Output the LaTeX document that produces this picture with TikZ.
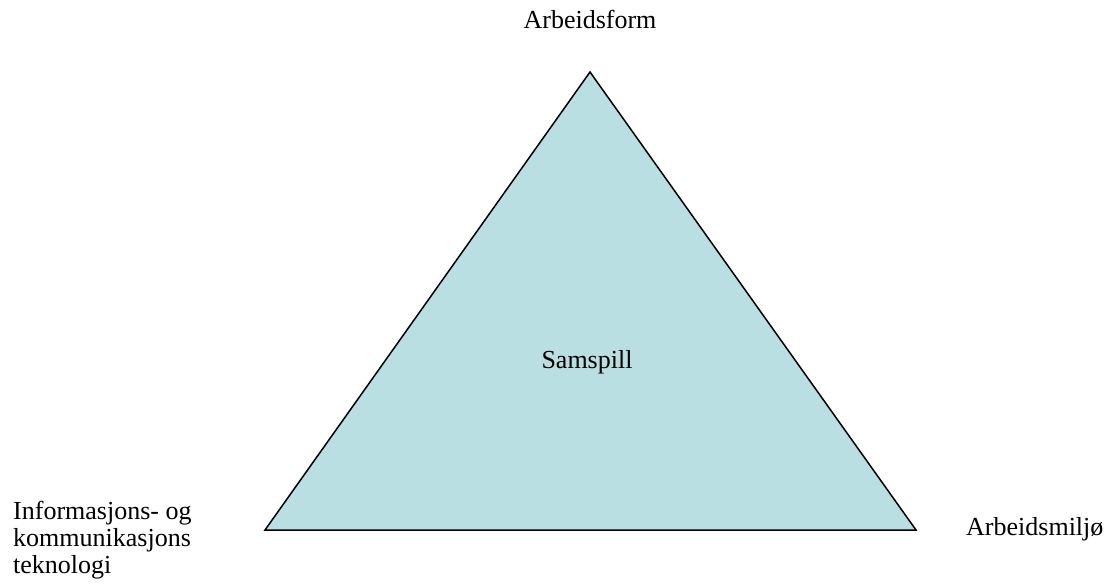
\documentclass[tikz,border=0pt]{standalone}
\usepackage{fontspec}
\setmainfont{Liberation Serif}
\usepackage{tikz}
\usetikzlibrary{positioning,calc}

\definecolor{triblue}{RGB}{185,223,227}

\begin{document}
\begin{tikzpicture}[x=1pt,y=-1pt,
    label/.style={font=\fontsize{26}{27}\selectfont,inner sep=0pt}]
    \useasboundingbox (0,0) rectangle (1108,585);

    \coordinate (top) at (590,72);
    \coordinate (left) at (265,530);
    \coordinate (right) at (916,530);

    \filldraw[fill=triblue,draw=black,line width=1.5pt,line join=miter] (top) -- (left) -- (right) -- cycle;

    \node[label,anchor=base] (form) at (590,29) {Arbeidsform};
    \node[label,anchor=base] (samspill) at (587,368) {Samspill};
    \node[label,anchor=base west] (miljo) at (966,535) {Arbeidsmiljø};
    \node[label,anchor=north west,align=left] (ikt) at (13,501)
        {Informasjons- og\\kommunikasjons\\teknologi};
\end{tikzpicture}
\end{document}
